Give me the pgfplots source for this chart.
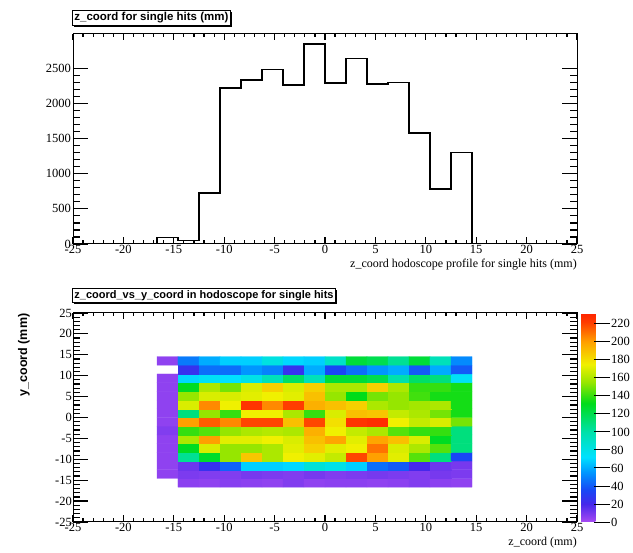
\documentclass[border=0pt]{standalone}
\usepackage{pgfplots}
\pgfplotsset{compat=1.18}
\usepackage{fontspec}
\setmainfont{Liberation Serif}
\newfontfamily\titlefont{Liberation Sans}
\usetikzlibrary{shadows}

\pgfplotsset{
  colormap={root}{rgb255(0pt)=(168,75,242); rgb255(20pt)=(70,40,235); rgb255(35pt)=(25,70,245); rgb255(55pt)=(0,150,255); rgb255(72pt)=(0,225,255); rgb255(100pt)=(0,225,170); rgb255(132pt)=(0,220,25); rgb255(155pt)=(150,230,0); rgb255(175pt)=(240,240,0); rgb255(200pt)=(255,160,0); rgb255(222pt)=(255,60,0); rgb255(232pt)=(255,35,0)},
  rootaxis/.style={
    scale only axis, width=504pt,
    axis line style={line width=1pt},
    tick align=inside, tick pos=both,
    xmin=-25, xmax=25,
    xtick={-25,-20,...,25},
    xticklabels={-25,-20,-15,-10,-5,0,5,10,15,20,25},
    minor x tick num=4, minor y tick num=4,
    tick style={black, line width=1.2pt},
    xtick style={/pgfplots/major tick length=6.5pt, /pgfplots/minor tick length=3.5pt},
    ytick style={/pgfplots/major tick length=15pt, /pgfplots/minor tick length=7pt},
    tick label style={font=\fontsize{12.5}{12.5}\selectfont},
    xticklabel style={inner sep=1pt},
    yticklabel style={inner sep=2pt},
  }
}

\begin{document}
\begin{tikzpicture}[x=1pt,y=1pt]
\useasboundingbox (0,0) rectangle (633,553);

% ---------- top histogram ----------
\begin{axis}[rootaxis, at={(73pt,309pt)}, anchor=south west, height=210pt,
  ymin=0, ymax=2990,
  ytick={0,500,1000,1500,2000,2500},
  yticklabels={0,500,1000,1500,2000,2500}]
\addplot[const plot, black, line width=1.6pt] coordinates {
(-25.000,0) (-22.917,0) (-20.833,0) (-18.750,0)
(-16.667,90) (-14.583,47) (-12.500,730) (-10.417,2220)
(-8.333,2334) (-6.250,2486) (-4.167,2263) (-2.083,2846)
(0.000,2296) (2.083,2642) (4.167,2282) (6.250,2301)
(8.333,1584) (10.417,783) (12.500,1305) (14.583,0)
(16.667,0) (18.750,0) (20.833,0) (22.917,0) (25.000,0)};
\end{axis}

% ---------- bottom 2D histogram ----------
\begin{axis}[rootaxis, at={(73pt,31pt)}, anchor=south west, height=209pt,
  ymin=-25, ymax=25,
  ytick={-25,-20,...,25},
  yticklabels={-25,-20,-15,-10,-5,0,5,10,15,20,25},
  yticklabel style={inner sep=1pt},
  colormap name=root, point meta min=0, point meta max=232,
  axis on top,
  colorbar,
  colorbar style={
    at={(1.008,0)}, anchor=south west, width=29pt,
    ytick={0,20,...,220},
    yticklabels={0,20,40,60,80,100,120,140,160,180,200,220},
    ytick pos=right, yticklabel pos=right,
    tick align=inside, major tick length=16pt,
    tick style={black, line width=0.9pt},
    axis line style={draw=none},
    yticklabel style={font=\fontsize{12.5}{12.5}\selectfont, inner sep=1pt},
  }]
\addplot[matrix plot*, mesh/cols=15, point meta=explicit, unbounded coords=jump]
table[meta=c, row sep=\\] {
x y c\\
-15.625 -15.625 nan\\ -13.542 -15.625 6\\ -11.458 -15.625 5\\ -9.375 -15.625 7\\ -7.292 -15.625 6\\ -5.208 -15.625 5\\ -3.125 -15.625 8\\ -1.042 -15.625 5\\ 1.042 -15.625 6\\ 3.125 -15.625 6\\ 5.208 -15.625 5\\ 7.292 -15.625 6\\ 9.375 -15.625 8\\ 11.458 -15.625 6\\ 13.542 -15.625 5\\
-15.625 -13.542 5\\ -13.542 -13.542 9\\ -11.458 -13.542 8\\ -9.375 -13.542 8\\ -7.292 -13.542 10\\ -5.208 -13.542 9\\ -3.125 -13.542 8\\ -1.042 -13.542 10\\ 1.042 -13.542 8\\ 3.125 -13.542 9\\ 5.208 -13.542 10\\ 7.292 -13.542 9\\ 9.375 -13.542 8\\ 11.458 -13.542 10\\ 13.542 -13.542 9\\
-15.625 -11.458 5\\ -13.542 -11.458 12\\ -11.458 -11.458 25\\ -9.375 -11.458 42\\ -7.292 -11.458 68\\ -5.208 -11.458 68\\ -3.125 -11.458 70\\ -1.042 -11.458 85\\ 1.042 -11.458 80\\ 3.125 -11.458 68\\ 5.208 -11.458 45\\ 7.292 -11.458 40\\ 9.375 -11.458 20\\ 11.458 -11.458 12\\ 13.542 -11.458 10\\
-15.625 -9.375 5\\ -13.542 -9.375 105\\ -11.458 -9.375 128\\ -9.375 -9.375 155\\ -7.292 -9.375 188\\ -5.208 -9.375 160\\ -3.125 -9.375 175\\ -1.042 -9.375 172\\ 1.042 -9.375 165\\ 3.125 -9.375 220\\ 5.208 -9.375 200\\ 7.292 -9.375 172\\ 9.375 -9.375 145\\ 11.458 -9.375 110\\ 13.542 -9.375 35\\
-15.625 -7.292 5\\ -13.542 -7.292 130\\ -11.458 -7.292 170\\ -9.375 -7.292 155\\ -7.292 -7.292 155\\ -5.208 -7.292 160\\ -3.125 -7.292 172\\ -1.042 -7.292 185\\ 1.042 -7.292 172\\ 3.125 -7.292 175\\ 5.208 -7.292 210\\ 7.292 -7.292 170\\ 9.375 -7.292 160\\ 11.458 -7.292 145\\ 13.542 -7.292 110\\
-15.625 -5.208 5\\ -13.542 -5.208 160\\ -11.458 -5.208 200\\ -9.375 -5.208 172\\ -7.292 -5.208 172\\ -5.208 -5.208 175\\ -3.125 -5.208 170\\ -1.042 -5.208 190\\ 1.042 -5.208 198\\ 3.125 -5.208 172\\ 5.208 -5.208 198\\ 7.292 -5.208 190\\ 9.375 -5.208 170\\ 11.458 -5.208 130\\ 13.542 -5.208 110\\
-15.625 -3.125 8\\ -13.542 -3.125 140\\ -11.458 -3.125 145\\ -9.375 -3.125 155\\ -7.292 -3.125 160\\ -5.208 -3.125 162\\ -3.125 -3.125 160\\ -1.042 -3.125 195\\ 1.042 -3.125 175\\ 3.125 -3.125 165\\ 5.208 -3.125 160\\ 7.292 -3.125 145\\ 9.375 -3.125 140\\ 11.458 -3.125 140\\ 13.542 -3.125 110\\
-15.625 -1.042 5\\ -13.542 -1.042 200\\ -11.458 -1.042 215\\ -9.375 -1.042 205\\ -7.292 -1.042 220\\ -5.208 -1.042 220\\ -3.125 -1.042 190\\ -1.042 -1.042 220\\ 1.042 -1.042 180\\ 3.125 -1.042 225\\ 5.208 -1.042 228\\ 7.292 -1.042 175\\ 9.375 -1.042 165\\ 11.458 -1.042 170\\ 13.542 -1.042 150\\
-15.625 1.042 5\\ -13.542 1.042 110\\ -11.458 1.042 155\\ -9.375 1.042 140\\ -7.292 1.042 175\\ -5.208 1.042 175\\ -3.125 1.042 160\\ -1.042 1.042 140\\ 1.042 1.042 170\\ 3.125 1.042 190\\ 5.208 1.042 188\\ 7.292 1.042 165\\ 9.375 1.042 160\\ 11.458 1.042 150\\ 13.542 1.042 135\\
-15.625 3.125 5\\ -13.542 3.125 170\\ -11.458 3.125 205\\ -9.375 3.125 175\\ -7.292 3.125 225\\ -5.208 3.125 205\\ -3.125 3.125 222\\ -1.042 3.125 195\\ 1.042 3.125 190\\ 3.125 3.125 185\\ 5.208 3.125 160\\ 7.292 3.125 155\\ 9.375 3.125 158\\ 11.458 3.125 160\\ 13.542 3.125 135\\
-15.625 5.208 5\\ -13.542 5.208 155\\ -11.458 5.208 170\\ -9.375 5.208 170\\ -7.292 5.208 172\\ -5.208 5.208 175\\ -3.125 5.208 172\\ -1.042 5.208 190\\ 1.042 5.208 155\\ 3.125 5.208 132\\ 5.208 5.208 150\\ 7.292 5.208 155\\ 9.375 5.208 142\\ 11.458 5.208 135\\ 13.542 5.208 135\\
-15.625 7.292 5\\ -13.542 7.292 130\\ -11.458 7.292 160\\ -9.375 7.292 150\\ -7.292 7.292 170\\ -5.208 7.292 185\\ -3.125 7.292 170\\ -1.042 7.292 185\\ 1.042 7.292 160\\ 3.125 7.292 160\\ 5.208 7.292 185\\ 7.292 7.292 160\\ 9.375 7.292 140\\ 11.458 7.292 140\\ 13.542 7.292 135\\
-15.625 9.375 5\\ -13.542 9.375 70\\ -11.458 9.375 75\\ -9.375 9.375 72\\ -7.292 9.375 80\\ -5.208 9.375 95\\ -3.125 9.375 115\\ -1.042 9.375 95\\ 1.042 9.375 125\\ 3.125 9.375 125\\ 5.208 9.375 120\\ 7.292 9.375 100\\ 9.375 9.375 115\\ 11.458 9.375 110\\ 13.542 9.375 75\\
-15.625 11.458 nan\\ -13.542 11.458 25\\ -11.458 11.458 45\\ -9.375 11.458 45\\ -7.292 11.458 55\\ -5.208 11.458 50\\ -3.125 11.458 25\\ -1.042 11.458 60\\ 1.042 11.458 35\\ 3.125 11.458 45\\ 5.208 11.458 55\\ 7.292 11.458 60\\ 9.375 11.458 40\\ 11.458 11.458 60\\ 13.542 11.458 40\\
-15.625 13.542 5\\ -13.542 13.542 48\\ -11.458 13.542 60\\ -9.375 13.542 68\\ -7.292 13.542 68\\ -5.208 13.542 82\\ -3.125 13.542 70\\ -1.042 13.542 68\\ 1.042 13.542 90\\ 3.125 13.542 125\\ 5.208 13.542 120\\ 7.292 13.542 105\\ 9.375 13.542 125\\ 11.458 13.542 95\\ 13.542 13.542 52\\
};
\end{axis}

% ---------- titles and labels ----------
\node[draw, fill=white, line width=0.8pt, anchor=north west, inner sep=2pt,
  drop shadow={shadow xshift=1.5pt, shadow yshift=-1.5pt, opacity=1, fill=black},
  font=\titlefont\bfseries\fontsize{11.5}{11.5}\selectfont] at (72,543) {z\_coord for single hits (mm)};
\node[draw, fill=white, line width=0.8pt, anchor=north west, inner sep=2pt,
  drop shadow={shadow xshift=1.5pt, shadow yshift=-1.5pt, opacity=1, fill=black},
  font=\titlefont\bfseries\fontsize{11}{11}\selectfont] at (72,265) {z\_coord\_vs\_y\_coord in hodoscope for single hits};
\node[anchor=east, inner sep=0pt, font=\fontsize{12}{12}\selectfont] at (577,288) {z\_coord hodoscope profile for single hits (mm)};
\node[anchor=east, inner sep=0pt, font=\fontsize{12}{12}\selectfont] at (577,10) {z\_coord (mm)};
\node[rotate=90, inner sep=0pt, font=\titlefont\bfseries\fontsize{12.5}{12.5}\selectfont] at (24,198) {y\_coord (mm)};
\end{tikzpicture}
\end{document}
